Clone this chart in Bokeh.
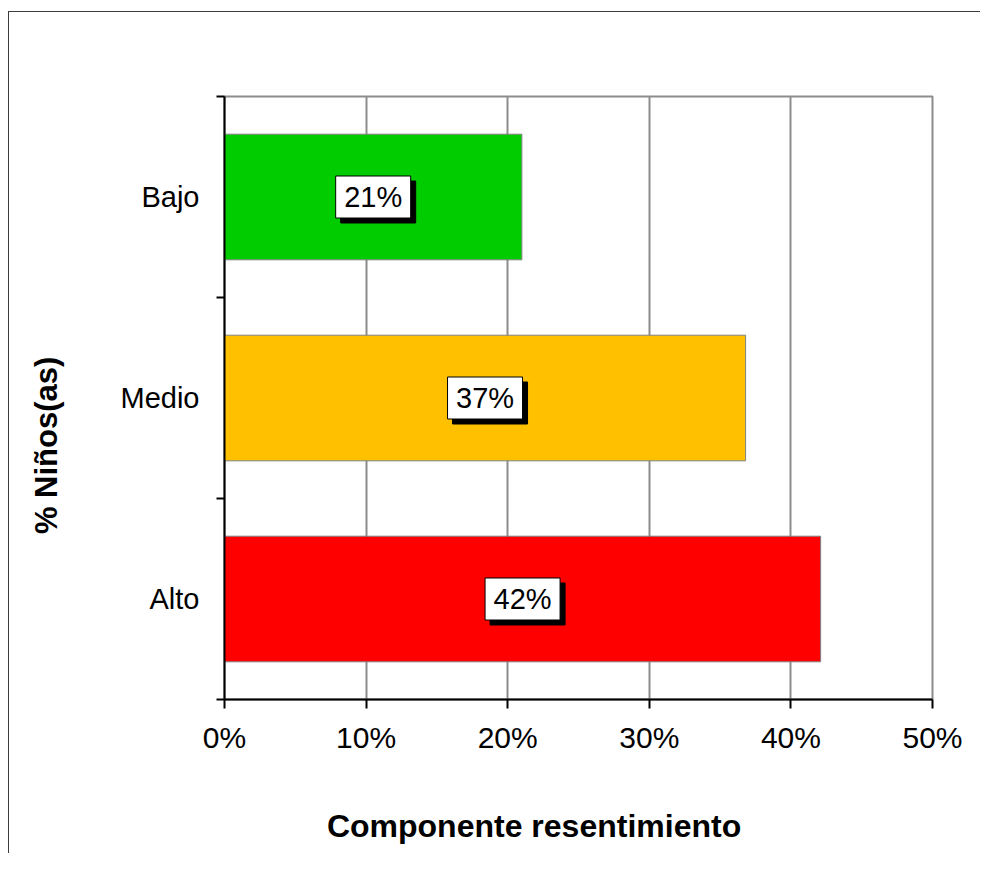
from bokeh.plotting import figure
from bokeh.models import Range1d, FixedTicker, NumeralTickFormatter, ColumnDataSource
from bokeh.core.properties import value
from bokeh.embed import file_html
from bokeh.resources import INLINE

# Data (bottom to top)
categories = ["Alto", "Medio", "Bajo"]
values = [0.421, 0.368, 0.210]
colors = ["#FF0000", "#FFC000", "#00CC00"]
labels = ["42%", "37%", "21%"]
x_ticks = [0.0, 0.1, 0.2, 0.3, 0.4, 0.5]
x_title = "Componente resentimiento"
y_title = "% Niños(as)"

FONT = "Liberation Sans"
FRAME_W, FRAME_H = 708, 603
XMAX = 0.5
YMAX = len(categories)
NBSP = "\u00a0"

ypos = [i + 0.5 for i in range(len(categories))]
centers = [v / 2 for v in values]
dx = 5 * XMAX / FRAME_W
dy = 5 * YMAX / FRAME_H

src = ColumnDataSource(dict(y=ypos, v=values, c=colors, lab=labels, xc=centers,
                            xs=[c + dx for c in centers], ys=[y - dy for y in ypos]))

p = figure(width=972, height=842, x_range=Range1d(0, XMAX), y_range=Range1d(0, YMAX),
           output_backend="svg", toolbar_location=None,
           min_border_left=215, min_border_right=49, min_border_top=84, min_border_bottom=155)
p.margin = (11, 0, 0, 8)
p.styles = {"border-left": "1px solid #3c3c3c", "border-top": "1px solid #3c3c3c"}

p.hbar(y="y", left=0, right="v", height=0.625, fill_color="c", line_color="#808080",
       line_width=1, source=src)

# label boxes with shadow
p.rect(x="xs", y="ys", width=75, height=42, width_units="screen", height_units="screen",
       fill_color="black", line_color="black", source=src)
p.rect(x="xc", y="y", width=75, height=42, width_units="screen", height_units="screen",
       fill_color="white", line_color="black", line_width=1, source=src)
p.text(x="xc", y="y", text="lab", text_align="center", text_baseline="middle",
       text_font=value(FONT), text_font_size="29px", text_color="black", source=src)

# grid / outline
p.xgrid.ticker = FixedTicker(ticks=x_ticks)
p.xgrid.grid_line_color = "#8c8c8c"
p.xgrid.grid_line_width = 2
p.ygrid.grid_line_color = None
p.outline_line_color = "#8c8c8c"
p.outline_line_width = 2
p.background_fill_color = "white"
p.border_fill_color = "white"

# x axis
xa = p.xaxis[0]
xa.ticker = FixedTicker(ticks=x_ticks, minor_ticks=[])
xa.formatter = NumeralTickFormatter(format="0%")
xa.axis_line_width = 2
xa.axis_line_color = "black"
xa.major_tick_line_width = 2
xa.major_tick_in = 0
xa.major_tick_out = 9
xa.major_label_standoff = 12
xa.major_label_text_font = FONT
xa.major_label_text_font_size = "30px"
xa.major_label_text_color = "black"
# trailing non-breaking spaces shift the centred title left, as in the original
xa.axis_label = x_title + NBSP * 10
xa.axis_label_text_font = FONT
xa.axis_label_text_font_style = "bold"
xa.axis_label_text_font_size = "32px"
xa.axis_label_text_color = "black"
xa.axis_label_standoff = 51

# y axis
ya = p.yaxis[0]
ya.ticker = FixedTicker(ticks=ypos, minor_ticks=list(range(len(categories) + 1)))
ya.major_label_overrides = {y: c for y, c in zip(ypos, categories)}
ya.axis_line_width = 2
ya.axis_line_color = "black"
ya.major_tick_line_color = None
ya.major_tick_in = 0
ya.major_tick_out = 0
ya.minor_tick_line_width = 2
ya.minor_tick_line_color = "black"
ya.minor_tick_in = 0
ya.minor_tick_out = 8
ya.major_label_standoff = 17
ya.major_label_text_font = FONT
ya.major_label_text_font_size = "29px"
ya.major_label_text_color = "black"
ya.axis_label = y_title + NBSP * 11
ya.axis_label_text_font = FONT
ya.axis_label_text_font_style = "bold"
ya.axis_label_text_font_size = "31px"
ya.axis_label_text_color = "black"
ya.axis_label_standoff = 54

open("out.html", "w").write(file_html(p, INLINE))
